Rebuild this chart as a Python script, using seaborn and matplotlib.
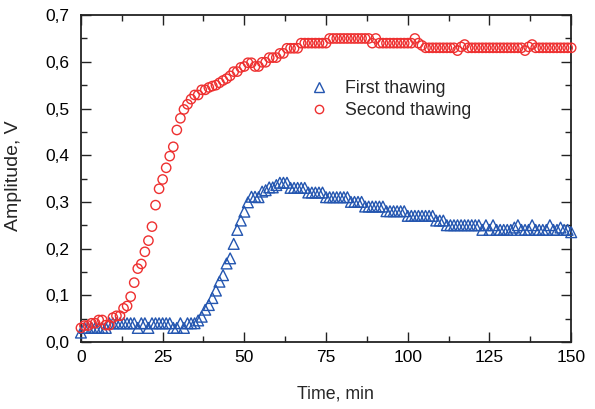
import numpy as np
import pandas as pd
import matplotlib
matplotlib.use('Agg')
import matplotlib.pyplot as plt
from matplotlib.ticker import MultipleLocator, FuncFormatter
from matplotlib.lines import Line2D
import seaborn as sns

# amplitude readings, one sample every ~1.09 min from 0 to 150 min
first_thawing = [
    0.02, 0.03, 0.03, 0.03, 0.03, 0.03, 0.03, 0.03, 0.04, 0.04,
    0.04, 0.04, 0.04, 0.04, 0.04, 0.04, 0.03, 0.04, 0.04, 0.03,
    0.04, 0.04, 0.04, 0.04, 0.04, 0.04, 0.03, 0.03, 0.04, 0.03,
    0.04, 0.04, 0.04, 0.046, 0.054, 0.069, 0.079, 0.094, 0.11, 0.129,
    0.143, 0.168, 0.179, 0.21, 0.24, 0.26, 0.279, 0.299, 0.311, 0.311,
    0.31, 0.322, 0.325, 0.331, 0.331, 0.336, 0.341, 0.341, 0.341, 0.33,
    0.33, 0.33, 0.33, 0.33, 0.32, 0.32, 0.32, 0.32, 0.32, 0.31,
    0.31, 0.31, 0.31, 0.31, 0.31, 0.31, 0.30, 0.30, 0.30, 0.30,
    0.29, 0.29, 0.29, 0.29, 0.29, 0.29, 0.28, 0.28, 0.28, 0.28,
    0.28, 0.28, 0.27, 0.27, 0.27, 0.27, 0.27, 0.27, 0.27, 0.27,
    0.26, 0.26, 0.26, 0.25, 0.25, 0.25, 0.25, 0.25, 0.25, 0.25,
    0.25, 0.25, 0.25, 0.24, 0.25, 0.24, 0.25, 0.24, 0.24, 0.24,
    0.24, 0.24, 0.245, 0.25, 0.24, 0.24, 0.24, 0.25, 0.24, 0.24,
    0.24, 0.24, 0.25, 0.24, 0.24, 0.245, 0.24, 0.24, 0.235,
]

second_thawing = [
    0.03, 0.035, 0.035, 0.04, 0.04, 0.047, 0.047, 0.036, 0.036, 0.052,
    0.056, 0.056, 0.072, 0.077, 0.097, 0.127, 0.157, 0.167, 0.193, 0.217,
    0.247, 0.293, 0.328, 0.348, 0.373, 0.398, 0.418, 0.454, 0.479, 0.498,
    0.509, 0.52, 0.529, 0.529, 0.54, 0.54, 0.545, 0.548, 0.55, 0.555,
    0.56, 0.564, 0.57, 0.579, 0.579, 0.588, 0.59, 0.598, 0.598, 0.59,
    0.59, 0.599, 0.599, 0.609, 0.609, 0.609, 0.618, 0.618, 0.629, 0.629,
    0.629, 0.629, 0.64, 0.64, 0.64, 0.64, 0.64, 0.64, 0.64, 0.64,
    0.65, 0.65, 0.65, 0.65, 0.65, 0.65, 0.65, 0.65, 0.65, 0.65,
    0.65, 0.65, 0.64, 0.65, 0.64, 0.64, 0.64, 0.64, 0.64, 0.64,
    0.64, 0.64, 0.64, 0.64, 0.65, 0.64, 0.635, 0.63, 0.63, 0.63,
    0.63, 0.63, 0.63, 0.63, 0.63, 0.63, 0.624, 0.632, 0.637, 0.63,
    0.63, 0.63, 0.63, 0.63, 0.63, 0.63, 0.63, 0.63, 0.63, 0.63,
    0.63, 0.63, 0.63, 0.63, 0.63, 0.624, 0.632, 0.637, 0.63, 0.63,
    0.63, 0.63, 0.63, 0.63, 0.63, 0.63, 0.63, 0.63, 0.63,
]

series_names = ['First thawing', 'Second thawing']
x_ticks = [0, 25, 50, 75, 100, 125, 150]
y_ticks = [0.0, 0.1, 0.2, 0.3, 0.4, 0.5, 0.6, 0.7]

time_step = 150 / (len(first_thawing) - 1)
time = np.arange(len(first_thawing)) * time_step

df = pd.DataFrame({'time': time, 'first': first_thawing, 'second': second_thawing})

sns.set_style('ticks')
plt.rcParams['font.family'] = ['Liberation Sans', 'DejaVu Sans']

blue = '#2456b0'
red = '#ee3030'

fig = plt.figure(figsize=(5.95, 4.09), dpi=100)
ax = fig.add_axes([0.136, 0.164, 0.824, 0.799])

sns.scatterplot(data=df, x='time', y='first', marker='^', s=60, color=blue,
                linewidth=1.0, ax=ax, clip_on=False, zorder=3)
sns.scatterplot(data=df, x='time', y='second', marker='o', s=45, color=red,
                linewidth=1.0, ax=ax, clip_on=False, zorder=4)
for coll, c in zip(ax.collections, [blue, red]):
    coll.set_facecolor('none')
    coll.set_edgecolor(c)

ax.set_xlim(0, 150)
ax.set_ylim(0, 0.7)
ax.set_xticks(x_ticks)
ax.set_yticks(y_ticks)
ax.xaxis.set_minor_locator(MultipleLocator(12.5))
ax.yaxis.set_minor_locator(MultipleLocator(0.05))
ax.yaxis.set_major_formatter(FuncFormatter(lambda v, p: f'{v:.1f}'.replace('.', ',')))

ax.tick_params(which='both', direction='in', top=True, right=True, width=1.0, colors='#222222')
ax.tick_params(which='major', length=7, labelsize=12.5, labelcolor='black')
ax.tick_params(which='minor', length=4)
ax.tick_params(axis='x', which='major', pad=6)
ax.tick_params(axis='y', which='major', pad=8)
for sp in ax.spines.values():
    sp.set_linewidth(1.3)
    sp.set_color('#222222')

ax.set_xlabel('Time, min', fontsize=12.8)
ax.xaxis.set_label_coords(0.52, -0.133)
ax.set_ylabel('Amplitude, V', fontsize=14)
ax.yaxis.set_label_coords(-0.12, 0.51)

handles = [
    Line2D([], [], linestyle='none', marker='^', markersize=6.5, markerfacecolor='none',
           markeredgecolor=blue, markeredgewidth=1.0),
    Line2D([], [], linestyle='none', marker='o', markersize=6, markerfacecolor='none',
           markeredgecolor=red, markeredgewidth=1.0),
]
ax.legend(handles, series_names, loc='center left', bbox_to_anchor=(0.467, 0.742),
          frameon=False, fontsize=12.8, handlelength=1.0, handletextpad=1.0,
          labelspacing=0.3, borderpad=0, borderaxespad=0)

fig.savefig('out.png', dpi=100)
